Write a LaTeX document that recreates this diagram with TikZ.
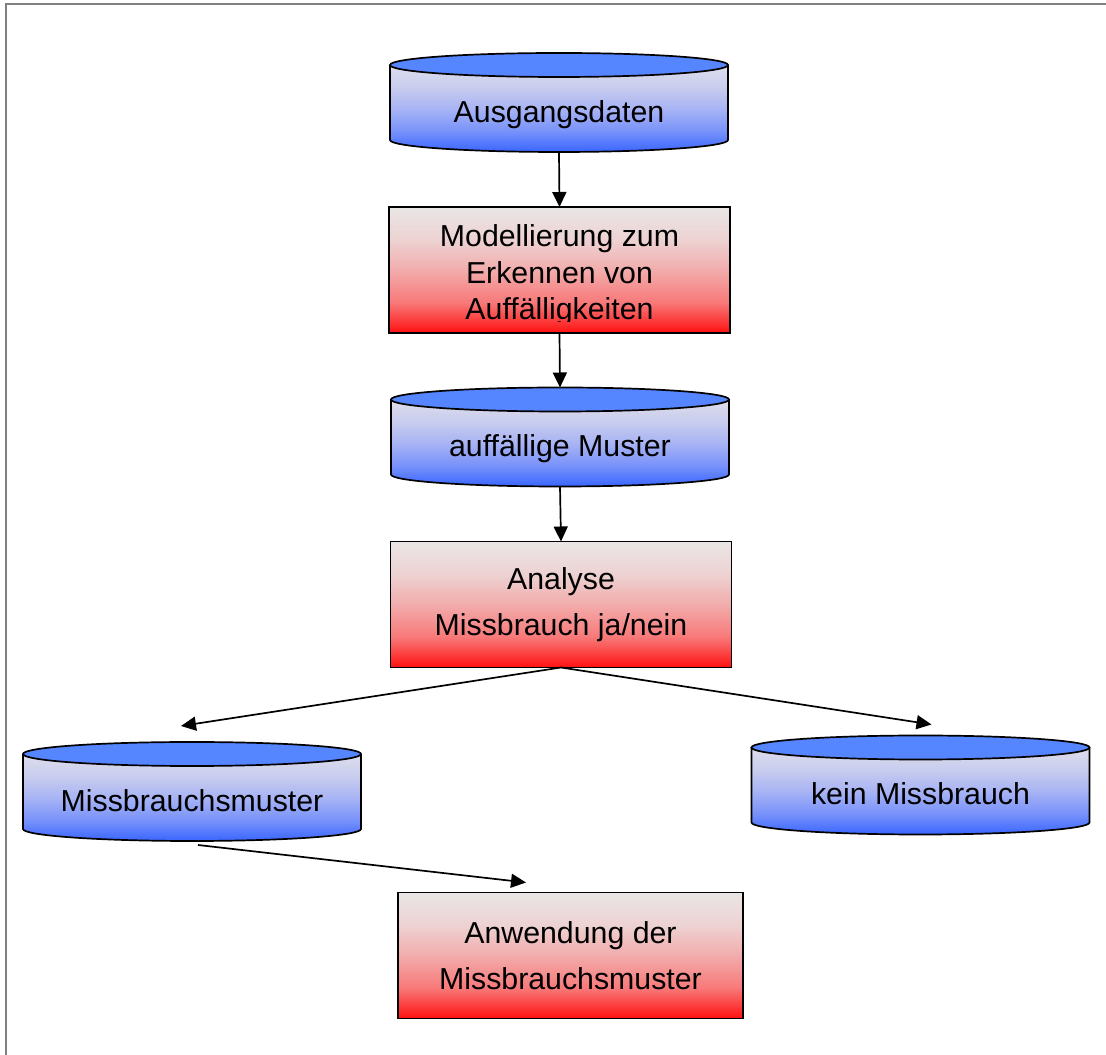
\documentclass[tikz,border=0pt]{standalone}
\usepackage{fontspec}
\setmainfont{Liberation Sans}
\usetikzlibrary{arrows.meta}
\pgfdeclarelayer{background}
\pgfsetlayers{background,main}

\definecolor{captop}{HTML}{5585FF}
\definecolor{framegray}{HTML}{808080}

% vertical colour ramps (the 25bp..75bp band covers the shaded path)
\pgfdeclareverticalshading{drumside}{100bp}{%
  color(0bp)=(rgb,255:red,58;green,102;blue,255);
  color(25bp)=(rgb,255:red,58;green,102;blue,255);
  color(37bp)=(rgb,255:red,120;green,146;blue,250);
  color(50bp)=(rgb,255:red,168;green,180;blue,244);
  color(62bp)=(rgb,255:red,200;green,204;blue,238);
  color(75bp)=(rgb,255:red,222;green,222;blue,236);
  color(100bp)=(rgb,255:red,222;green,222;blue,236)}
\pgfdeclareverticalshading{stepramp}{100bp}{%
  color(0bp)=(rgb,255:red,255;green,16;blue,16);
  color(25bp)=(rgb,255:red,255;green,16;blue,16);
  color(37bp)=(rgb,255:red,248;green,120;blue,120);
  color(50bp)=(rgb,255:red,242;green,172;blue,172);
  color(62bp)=(rgb,255:red,237;green,210;blue,210);
  color(75bp)=(rgb,255:red,234;green,230;blue,230);
  color(100bp)=(rgb,255:red,234;green,230;blue,230)}

\tikzset{
  outline/.style={draw=black, line width=1.7pt},
  drum/.style={rectangle, inner sep=0pt, outer sep=0pt,
    minimum width=338pt, minimum height=99pt,
    text height=40pt, text depth=0pt,
    font=\fontsize{30.3}{36}\selectfont},
  stepbox/.style={rectangle, outline, inner sep=0pt, outer sep=0pt,
    shading=stepramp,
    minimum width=341pt, minimum height=126pt, align=center,
    font=\fontsize{30.3}{45.5}\selectfont},
  boxtext/.style={inner sep=0pt, align=center,
    font=\fontsize{30.3}{36.5}\selectfont},
  conn/.style={line width=1.7pt, -{Triangle[length=15pt,width=14pt]}}
}

% drum body drawn behind a drum node: shaded side plus a solid top ellipse
\newcommand\drumbody[1]{%
  \begin{pgfonlayer}{background}
    \shade[shading=drumside]
      ([yshift=-12pt]#1.north west) -- ([yshift=12pt]#1.south west)
      arc[start angle=180, end angle=360, x radius=169pt, y radius=12pt]
      -- ([yshift=-12pt]#1.north east) -- cycle;
    \draw[outline] ([yshift=-12pt]#1.north west) -- ([yshift=12pt]#1.south west)
      arc[start angle=180, end angle=360, x radius=169pt, y radius=12pt]
      -- ([yshift=-12pt]#1.north east);
    \draw[outline, fill=captop] ([yshift=-12pt]#1.north)
      ellipse[x radius=169pt, y radius=12pt];
  \end{pgfonlayer}%
}

\begin{document}
\begin{tikzpicture}[x=1pt, y=1pt]
  \useasboundingbox (0,0) rectangle (1106,1055);

  % page frame (top and left edges)
  \draw[framegray, line width=1.6pt] (1106,1051) -- (5.8,1051) -- (5.8,0);

  % data stores
  \node[drum] (start)   at (559,952.5) {Ausgangsdaten};
  \node[drum] (pattern) at (560,618)   {auffällige Muster};
  \node[drum] (abuse)   at (192,263.5) {Missbrauchsmuster};
  \node[drum] (noabuse) at (920.5,270) {kein Missbrauch};
  \drumbody{start}
  \drumbody{pattern}
  \drumbody{abuse}
  \drumbody{noabuse}

  % process steps
  \node[stepbox] (model) at (559.5,785) {};
  \begin{scope}
    \clip (model.north west) rectangle ([yshift=11.5pt]model.south east);
    \node[boxtext] (modeltext) at ([yshift=-5.5pt]model.center)
      {Modellierung zum\\Erkennen von\\Auffälligkeiten};
  \end{scope}
  \node[stepbox] (analysis) at (561,450.5) {Analyse\\Missbrauch ja/nein};
  \node[stepbox, minimum width=345pt] (apply) at (570.5,99.5)
    {Anwendung der\\Missbrauchsmuster};

  % flow
  \draw[conn] (start.south) -- (model.north);
  \draw[conn] (model.south) -- (pattern.north);
  \draw[conn] (pattern.south) -- (analysis.north);
  \draw[conn] (analysis.south) -- ([xshift=-11pt,yshift=16pt]abuse.north);
  \draw[conn] (analysis.south) -- ([xshift=11pt,yshift=11pt]noabuse.north);
  \draw[conn] ([xshift=6pt,yshift=-4pt]abuse.south) -- ([xshift=-44.5pt,yshift=10pt]apply.north);
\end{tikzpicture}
\end{document}
